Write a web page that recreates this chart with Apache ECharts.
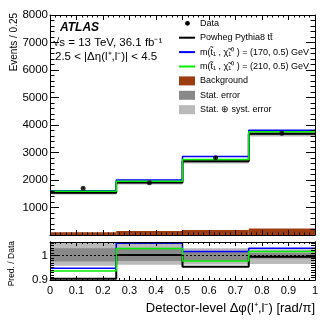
<!DOCTYPE html>
<html>
<head>
<meta charset="utf-8">
<script src="https://cdn.jsdelivr.net/npm/echarts@6.0.0/dist/echarts.min.js"></script>
<style>
  html, body { margin: 0; padding: 0; background: #fff; }
  #chart { width: 332px; height: 322px; }
</style>
</head>
<body>
<div id="chart"></div>
<script>
// bins in delta phi / pi
const binEdges = [0, 0.25, 0.5, 0.75, 1];

// upper panel: events / 0.25
const dataValues = [1698, 1902, 2811, 3698];
const dataErrors = [41, 44, 53, 61];
const powhegValues = [1537, 1906, 2682, 3680];
const stop170Values = [1610, 1997, 2856, 3805];
const stop210Values = [1591, 1955, 2749, 3757];
const backgroundValues = [100, 150, 180, 240];
const mainStatError = [25, 30, 35, 40];
const mainTotalError = [60, 70, 85, 100];

// lower panel: pred. / data
const ratioPowheg = [0.905, 1.002, 0.954, 0.995];
const ratio170 = [0.948, 1.05, 1.016, 1.029];
const ratio210 = [0.937, 1.028, 0.978, 1.016];
const ratioStatLow = [0.975, 0.977, 0.978, 0.988];
const ratioStatHigh = [1.03, 1.03, 1.017, 1.01];
const ratioTotalLow = [0.958, 0.962, 0.963, 0.965];
const ratioTotalHigh = [1.055, 1.055, 1.03, 1.025];
const ratioTickLabels = ['0.9', '1'];

const legendNames = [
  'Data',
  'Powheg Pythia8 tt\u0304',
  'm(t\u0303\u2081 , \u03c7\u0303\u2081\u2070 ) = (170, 0.5) GeV',
  'm(t\u0303\u2081 , \u03c7\u0303\u2081\u2070 ) = (210, 0.5) GeV',
  'Background',
  'Stat. error',
  'Stat. \u2295 syst. error'
];
const legendKinds = ['dot', 'line', 'line', 'line', 'box', 'box', 'box'];

const FONT = 'Liberation Sans, Arial, Helvetica, sans-serif';
const BROWN = '#9c3c10';
const DARK = '#898989';
const LIGHT = '#bababa';
const BLUE = '#0000ff';
const GREEN = '#00f000';
const legendColors = ['#000', '#000', BLUE, GREEN, BROWN, DARK, LIGHT];

const centers = binEdges.slice(0, -1).map((e, i) => (e + binEdges[i + 1]) / 2);

function steps(vals) {
  const pts = [];
  vals.forEach((v, i) => { pts.push([binEdges[i], v], [binEdges[i + 1], v]); });
  return pts;
}
function boxes(lo, hi) {
  return lo.map((l, i) => [binEdges[i], binEdges[i + 1], l, hi[i]]);
}
function boxItem(color) {
  return function (params, api) {
    const a = api.coord([api.value(0), api.value(3)]);
    const b = api.coord([api.value(1), api.value(2)]);
    const cs = params.coordSys;
    const shape = echarts.graphic.clipRectByRect(
      { x: a[0], y: a[1], width: b[0] - a[0], height: b[1] - a[1] },
      { x: cs.x, y: cs.y, width: cs.width, height: cs.height });
    return shape && { type: 'rect', shape: shape, style: { fill: color } };
  };
}

function xAxis(grid, position, showLabels, major, minor) {
  return {
    type: 'value', gridIndex: grid, position: position, min: 0, max: 1, interval: 0.1, z: 10,
    axisLine: { onZero: false, lineStyle: { color: '#000', width: 1 } },
    axisTick: { inside: true, length: major, lineStyle: { color: '#000' } },
    minorTick: { show: true, splitNumber: 5, length: minor, lineStyle: { color: '#000' } },
    splitLine: { show: false },
    axisLabel: showLabels
      ? { color: '#000', fontSize: 11, fontFamily: FONT, margin: 5, showMinLabel: true, showMaxLabel: true }
      : { show: false }
  };
}
function yAxis(grid, position, min, max, interval, major, minorSplit, minor, formatter) {
  return {
    type: 'value', gridIndex: grid, position: position, min: min, max: max, interval: interval, z: 10,
    axisLine: { onZero: false, lineStyle: { color: '#000', width: 1 } },
    axisTick: { inside: true, length: major, lineStyle: { color: '#000' } },
    minorTick: { show: minorSplit > 0, splitNumber: minorSplit || 5, length: minor, lineStyle: { color: '#000' } },
    splitLine: { show: false },
    axisLabel: formatter
      ? { color: '#000', fontSize: 11.5, fontFamily: FONT, margin: 2, formatter: formatter }
      : { show: false }
  };
}

function line(name, pts, color, width, xi, yi) {
  return {
    name: name, type: 'line', data: pts, xAxisIndex: xi, yAxisIndex: yi,
    symbol: 'none', lineStyle: { color: color, width: width }, z: 4
  };
}

const graphic = [];
function text(str, x, y, size, extra) {
  graphic.push(Object.assign({
    type: 'text', x: x, y: y, z: 20,
    style: Object.assign({
      text: str, fontSize: size, fontFamily: FONT, fill: '#000',
      textAlign: 'left', textVerticalAlign: 'middle', align: 'left', verticalAlign: 'middle'
    }, extra && extra.style)
  }, extra && extra.el));
}

text('ATLAS', 60, 28, 12, { style: { fontWeight: 'bold', fontStyle: 'italic' } });
text('\u221as = 13 TeV, 36.1 fb\u207b\u00b9', 53, 43, 11.5);
text('2.5 < |\u0394\u03b7(l\u207a,l\u207b)| < 4.5', 55, 57, 11.5);
text('Events / 0.25', 14, 13, 10,
  { el: { rotation: Math.PI / 2 }, style: { textAlign: 'right', align: 'right' } });
text('Pred. / Data', 11.5, 241, 8.5,
  { el: { rotation: Math.PI / 2 }, style: { textAlign: 'right', align: 'right' } });
text('Detector-level \u0394\u03c6(l\u207a,l\u207b) [rad/\u03c0]', 315, 308, 13,
  { style: { textAlign: 'right', align: 'right' } });

legendNames.forEach((name, i) => {
  const cy = 23.3 + i * 14.4;
  const kind = legendKinds[i];
  const color = legendColors[i];
  if (kind === 'dot') {
    graphic.push({ type: 'circle', z: 20, shape: { cx: 187.5, cy: cy, r: 2.4 }, style: { fill: color } });
  } else if (kind === 'line') {
    graphic.push({ type: 'line', z: 20, shape: { x1: 179, y1: cy, x2: 195, y2: cy }, style: { stroke: color, lineWidth: 2 } });
  } else {
    graphic.push({ type: 'rect', z: 20, shape: { x: 179, y: cy - 4.5, width: 16, height: 9 }, style: { fill: color } });
  }
  text(name, 200, cy, 9);
});

const chart = echarts.init(document.getElementById('chart'), null, { renderer: 'canvas' });
chart.setOption({
  animation: false,
  backgroundColor: '#fff',
  grid: [
    { left: 50, top: 15, width: 265, height: 220 },
    { left: 50, top: 242, width: 265, height: 38 }
  ],
  xAxis: [
    xAxis(0, 'bottom', false, 5, 2.5),
    xAxis(0, 'top', false, 5, 2.5),
    xAxis(1, 'bottom', true, 4, 2),
    xAxis(1, 'top', false, 4, 2)
  ],
  yAxis: [
    yAxis(0, 'left', 0, 8000, 1000, 9, 5, 4.5, v => (v === 0 ? '' : String(v))),
    yAxis(0, 'right', 0, 8000, 1000, 9, 5, 4.5),
    yAxis(1, 'left', 0.9, 1.055, 0.1, 9, 0, 0, v => {
      if (Math.abs(v - 0.9) < 1e-6) return ratioTickLabels[0];
      if (Math.abs(v - 1) < 1e-6) return ratioTickLabels[1];
      return '';
    }),
    yAxis(1, 'left', 0.9, 1.055, 0.01, 4, 0, 0),
    yAxis(1, 'right', 0.9, 1.055, 0.1, 9, 0, 0),
    yAxis(1, 'right', 0.9, 1.055, 0.01, 4, 0, 0)
  ],
  graphic: graphic,
  series: [
    {
      name: 'Background', type: 'custom', xAxisIndex: 0, yAxisIndex: 0, z: 2,
      renderItem: boxItem(BROWN),
      data: boxes(backgroundValues.map(() => 0), backgroundValues)
    },
    {
      name: 'Total band', type: 'custom', xAxisIndex: 0, yAxisIndex: 0, z: 2,
      renderItem: boxItem(LIGHT),
      data: boxes(powhegValues.map((v, i) => v - mainTotalError[i]), powhegValues.map((v, i) => v + mainTotalError[i]))
    },
    {
      name: 'Stat band', type: 'custom', xAxisIndex: 0, yAxisIndex: 0, z: 2,
      renderItem: boxItem(DARK),
      data: boxes(powhegValues.map((v, i) => v - mainStatError[i]), powhegValues.map((v, i) => v + mainStatError[i]))
    },
    line('Powheg', steps(powhegValues), '#000', 2, 0, 0),
    line('m170', steps(stop170Values), BLUE, 1.5, 0, 0),
    line('m210', steps(stop210Values), GREEN, 1.5, 0, 0),
    {
      name: 'Data errors', type: 'custom', xAxisIndex: 0, yAxisIndex: 0, z: 5,
      renderItem: function (params, api) {
        const a = api.coord([api.value(0), api.value(1)]);
        const b = api.coord([api.value(0), api.value(2)]);
        return { type: 'line', shape: { x1: a[0], y1: a[1], x2: b[0], y2: b[1] }, style: { stroke: '#000', lineWidth: 1 } };
      },
      data: centers.map((c, i) => [c, dataValues[i] - dataErrors[i], dataValues[i] + dataErrors[i]])
    },
    {
      name: 'Data', type: 'scatter', xAxisIndex: 0, yAxisIndex: 0, z: 6,
      symbol: 'circle', symbolSize: 5, itemStyle: { color: '#000' },
      data: centers.map((c, i) => [c, dataValues[i]])
    },
    {
      name: 'Ratio total', type: 'custom', xAxisIndex: 2, yAxisIndex: 2, z: 2,
      renderItem: boxItem(LIGHT),
      data: boxes(ratioTotalLow, ratioTotalHigh)
    },
    {
      name: 'Ratio stat', type: 'custom', xAxisIndex: 2, yAxisIndex: 2, z: 2,
      renderItem: boxItem(DARK),
      data: boxes(ratioStatLow, ratioStatHigh),
      markLine: {
        silent: true, symbol: 'none', label: { show: false },
        lineStyle: { color: '#000', width: 1, type: [2, 2] },
        data: [{ yAxis: 1 }]
      }
    },
    line('Ratio Powheg', steps(ratioPowheg), '#000', 2, 2, 2),
    line('Ratio m170', steps(ratio170), BLUE, 1.5, 2, 2),
    line('Ratio m210', steps(ratio210), GREEN, 1.5, 2, 2)
  ]
});
</script>
</body>
</html>
